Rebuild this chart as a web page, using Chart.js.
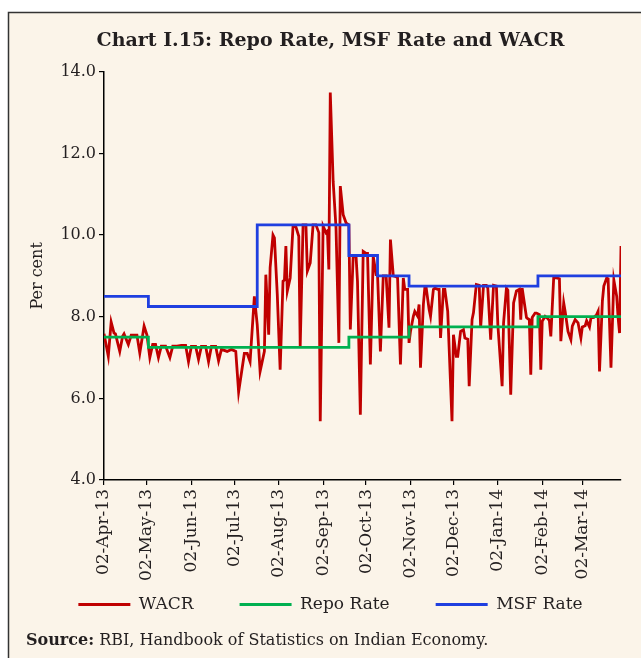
<!DOCTYPE html>
<html>
<head>
<meta charset="utf-8">
<script src="https://cdn.jsdelivr.net/npm/chart.js@4.4.1/dist/chart.umd.min.js"></script>
<style>
  html, body { margin: 0; padding: 0; background: #fff; }
  #wrap { width: 641px; height: 658px; }
</style>
</head>
<body>
<div id="wrap"><canvas id="chart" width="641" height="658"></canvas></div>
<script>
// WACR, daily
const wacrDates = [
  '2013-04-02','2013-04-05','2013-04-07','2013-04-09','2013-04-10','2013-04-13','2013-04-15','2013-04-16',
  '2013-04-19','2013-04-21','2013-04-23','2013-04-25','2013-04-27','2013-04-30','2013-05-02','2013-05-04',
  '2013-05-06','2013-05-08','2013-05-10','2013-05-12','2013-05-15','2013-05-18','2013-05-20','2013-05-23',
  '2013-05-26','2013-05-29','2013-05-31','2013-06-02','2013-06-05','2013-06-07','2013-06-09','2013-06-12',
  '2013-06-14','2013-06-16','2013-06-19','2013-06-21','2013-06-23','2013-06-27','2013-06-30','2013-07-03',
  '2013-07-05','2013-07-09','2013-07-11','2013-07-13','2013-07-16','2013-07-18','2013-07-20','2013-07-23',
  '2013-07-24','2013-07-26','2013-07-27','2013-07-29','2013-07-30','2013-08-01','2013-08-03','2013-08-05',
  '2013-08-06','2013-08-07','2013-08-08','2013-08-10','2013-08-12','2013-08-14','2013-08-16','2013-08-17',
  '2013-08-19','2013-08-21','2013-08-22','2013-08-24','2013-08-26','2013-08-28','2013-08-30','2013-08-31',
  '2013-09-02','2013-09-04','2013-09-05','2013-09-06','2013-09-07','2013-09-09','2013-09-11','2013-09-13',
  '2013-09-14','2013-09-16','2013-09-18','2013-09-20','2013-09-21','2013-09-23','2013-09-25','2013-09-26',
  '2013-09-28','2013-09-30','2013-10-02','2013-10-03','2013-10-05','2013-10-07','2013-10-09','2013-10-10',
  '2013-10-12','2013-10-14','2013-10-16','2013-10-18','2013-10-19','2013-10-21','2013-10-23','2013-10-24',
  '2013-10-26','2013-10-28','2013-10-29','2013-10-31','2013-11-01','2013-11-02','2013-11-04','2013-11-05',
  '2013-11-07','2013-11-08','2013-11-09','2013-11-11','2013-11-12','2013-11-13','2013-11-15','2013-11-16',
  '2013-11-18','2013-11-19','2013-11-21','2013-11-22','2013-11-23','2013-11-25','2013-11-26','2013-11-28',
  '2013-12-01','2013-12-02','2013-12-04','2013-12-05','2013-12-07','2013-12-09','2013-12-10','2013-12-12',
  '2013-12-13','2013-12-15','2013-12-16','2013-12-18','2013-12-20','2013-12-21','2013-12-23','2013-12-25',
  '2013-12-26','2013-12-28','2013-12-30','2014-01-01','2014-01-02','2014-01-05','2014-01-06','2014-01-08',
  '2014-01-09','2014-01-11','2014-01-13','2014-01-15','2014-01-17','2014-01-18','2014-01-19','2014-01-20',
  '2014-01-22','2014-01-23','2014-01-24','2014-01-25','2014-01-26','2014-01-28','2014-01-29','2014-01-31',
  '2014-02-01','2014-02-02','2014-02-04','2014-02-06','2014-02-07','2014-02-08','2014-02-10','2014-02-12',
  '2014-02-14','2014-02-15','2014-02-17','2014-02-18','2014-02-20','2014-02-22','2014-02-23','2014-02-25',
  '2014-02-27','2014-03-01','2014-03-02','2014-03-04','2014-03-05','2014-03-07','2014-03-08','2014-03-10',
  '2014-03-12','2014-03-13','2014-03-14','2014-03-16','2014-03-17','2014-03-19','2014-03-20','2014-03-22',
  '2014-03-24','2014-03-26','2014-03-27','2014-03-28','2014-03-29'
];
const wacrValues = [
  7.58, 7.03, 7.87, 7.60, 7.58, 7.15, 7.52, 7.58,
  7.32, 7.55, 7.55, 7.55, 7.11, 7.77, 7.55, 7.00,
  7.32, 7.32, 7.00, 7.28, 7.28, 7.00, 7.28, 7.28,
  7.30, 7.30, 6.90, 7.27, 7.27, 6.95, 7.27, 7.27,
  6.90, 7.27, 7.27, 6.92, 7.20, 7.15, 7.20, 7.15,
  6.16, 7.10, 7.10, 6.90, 8.50, 7.80, 6.66, 7.15,
  9.03, 7.56, 9.20, 10.00, 9.93, 8.54, 6.70, 8.87,
  8.90, 9.73, 8.63, 8.95, 10.22, 10.20, 9.97, 7.27,
  10.25, 10.25, 9.12, 9.32, 10.25, 10.25, 10.06, 5.44,
  10.22, 10.06, 10.10, 9.16, 13.49, 11.32, 10.18, 7.36,
  11.20, 10.50, 10.30, 10.25, 7.69, 9.48, 9.48, 8.87,
  5.60, 9.60, 9.55, 9.55, 6.83, 9.48, 9.03, 9.03,
  7.15, 9.00, 9.00, 7.73, 9.89, 9.00, 8.98, 8.95,
  6.83, 8.95, 8.67, 8.67, 7.36, 7.64, 8.01, 8.13,
  8.01, 8.30, 6.75, 8.30, 8.70, 8.70, 8.18, 8.01,
  8.67, 8.70, 8.67, 8.67, 7.48, 8.67, 8.67, 8.13,
  5.44, 7.56, 7.03, 7.03, 7.64, 7.68, 7.48, 7.45,
  6.30, 7.93, 8.10, 8.79, 8.77, 7.73, 8.77, 8.77,
  8.70, 7.44, 8.77, 8.75, 7.81, 6.30, 7.85, 8.70,
  8.65, 6.09, 8.34, 8.63, 8.67, 7.93, 8.70, 8.46,
  7.98, 7.95, 7.93, 6.58, 7.98, 8.09, 8.09, 8.05,
  6.70, 7.89, 8.01, 7.95, 7.90, 7.52, 8.95, 8.95,
  8.93, 7.40, 8.34, 8.13, 7.64, 7.44, 7.77, 7.93,
  7.85, 7.48, 7.75, 7.78, 7.90, 7.75, 7.97, 7.98,
  8.05, 8.13, 6.66, 8.38, 8.75, 8.95, 8.93, 6.75,
  8.90, 8.50, 7.97, 7.60, 9.73
];

// policy rates: effective date of each change
const repoDates  = ['2013-04-02','2013-05-03','2013-09-20','2013-11-01','2014-01-30'];
const repoValues = [7.50, 7.25, 7.50, 7.75, 8.00];
const msfDates   = ['2013-04-02','2013-05-03','2013-07-18','2013-09-20','2013-10-10','2013-11-01','2014-01-30'];
const msfValues  = [8.50, 8.25, 10.25, 9.50, 9.00, 8.75, 9.00];

const tickDates  = ['2013-04-02','2013-05-02','2013-06-02','2013-07-02','2013-08-02','2013-09-02',
                    '2013-10-02','2013-11-02','2013-12-02','2014-01-02','2014-02-02','2014-03-02'];
const tickLabels = ['02-Apr-13','02-May-13','02-Jun-13','02-Jul-13','02-Aug-13','02-Sep-13',
                    '02-Oct-13','02-Nov-13','02-Dec-13','02-Jan-14','02-Feb-14','02-Mar-14'];

const SERIF = "'DejaVu Serif', serif";
const INK = '#231f20';
const start = Date.UTC(2013, 3, 2);

function day(s)
{
	const p = s.split('-');
	return (Date.UTC(+p[0], +p[1] - 1, +p[2]) - start) / 864e5;
}

const lastDay = day(wacrDates[wacrDates.length - 1]);

function steps(dates, values)
{
	const pts = dates.map((d, i) => ({ x: day(d), y: values[i] }));
	pts.push({ x: lastDay, y: values[values.length - 1] });
	return pts;
}

const framePlugin = {
	id: 'frame',
	// legend keeps its wide item spacing, but sits just under the date labels
	afterLayout(chart)
	{
		chart.legend.top -= 30;
		chart.legend.bottom -= 30;
	},
	beforeDraw(chart)
	{
		const c = chart.ctx;
		c.save();
		c.fillStyle = '#ffffff';
		c.fillRect(0, 0, chart.width, chart.height);
		c.fillStyle = '#fbf4e9';
		c.fillRect(8, 12, chart.width - 8, chart.height - 12);
		c.strokeStyle = '#333';
		c.lineWidth = 1.5;
		c.beginPath();
		c.moveTo(8.5, chart.height);
		c.lineTo(8.5, 12.5);
		c.lineTo(chart.width, 12.5);
		c.stroke();
		c.restore();
	},
	afterDraw(chart)
	{
		const c = chart.ctx;
		c.save();
		c.fillStyle = INK;
		c.textBaseline = 'middle';
		c.font = 'bold 16px ' + SERIF;
		c.fillText('Source:', 26, 641);
		const w = c.measureText('Source:').width;
		c.font = '16px ' + SERIF;
		c.fillText(' RBI, Handbook of Statistics on Indian Economy.', 26 + w, 641);
		c.restore();
	}
};

const lineBase = { pointRadius: 0, borderWidth: 2.8, tension: 0, fill: false };

new Chart(document.getElementById('chart'), {
	type: 'line',
	data: {
		datasets: [
			Object.assign({
				label: 'WACR',
				data: wacrDates.map((d, i) => ({ x: day(d), y: wacrValues[i] })),
				borderColor: '#c00000', backgroundColor: '#c00000', order: 3
			}, lineBase),
			Object.assign({
				label: 'Repo Rate',
				data: steps(repoDates, repoValues), stepped: true,
				borderColor: '#00b050', backgroundColor: '#00b050', order: 2
			}, lineBase),
			Object.assign({
				label: 'MSF Rate',
				data: steps(msfDates, msfValues), stepped: true,
				borderColor: '#1f3fe0', backgroundColor: '#1f3fe0', order: 1
			}, lineBase)
		]
	},
	plugins: [framePlugin],
	options: {
		responsive: false,
		animation: false,
		layout: { padding: { left: 20, right: 0, top: 0, bottom: 5 } },
		plugins: {
			tooltip: { enabled: false },
			title: {
				display: true,
				text: 'Chart I.15: Repo Rate, MSF Rate and WACR',
				color: INK,
				font: { family: SERIF, size: 19, weight: 'bold' },
				padding: { top: 30, bottom: 19 }
			},
			legend: {
				position: 'bottom',
				labels: {
					color: INK,
					font: { family: SERIF, size: 17 },
					boxWidth: 52,
					boxHeight: 3,
					padding: 46,
					sort: (a, b) => a.datasetIndex - b.datasetIndex,
					generateLabels: (chart) =>
						Chart.defaults.plugins.legend.labels.generateLabels(chart)
							.map(l => Object.assign(l, { lineWidth: 0 }))
				}
			}
		},
		scales: {
			x: {
				type: 'linear',
				min: 0,
				max: lastDay,
				afterBuildTicks: (s) => { s.ticks = tickDates.map(d => ({ value: day(d) })); },
				afterFit: (s) => { s.height = 100; },
				ticks: {
					color: INK,
					font: { family: SERIF, size: 17 },
					minRotation: 90,
					maxRotation: 90,
					padding: 4,
					callback: (v) => tickLabels[tickDates.findIndex(d => day(d) === v)]
				},
				grid: { drawOnChartArea: false, tickLength: 5, color: '#000', lineWidth: 1.2 },
				border: { color: '#000', width: 1.5 }
			},
			y: {
				min: 4,
				max: 14,
				afterFit: (s) => { s.width = 84; },
				ticks: {
					stepSize: 2,
					color: INK,
					font: { family: SERIF, size: 16 },
					padding: 3,
					callback: (v) => v.toFixed(1)
				},
				title: {
					display: true,
					text: 'Per cent',
					color: INK,
					font: { family: SERIF, size: 16 },
					padding: { top: 8, bottom: 0 }
				},
				grid: { drawOnChartArea: false, tickLength: 5, color: '#000', lineWidth: 1.2 },
				border: { color: '#000', width: 1.5 }
			},
			// empty right-hand gutter so the title and legend centre like the original
			gutter: {
				position: 'right',
				afterFit: (s) => { s.width = 20; },
				ticks: { display: false },
				grid: { display: false },
				border: { display: false }
			}
		}
	}
});
</script>
</body>
</html>
